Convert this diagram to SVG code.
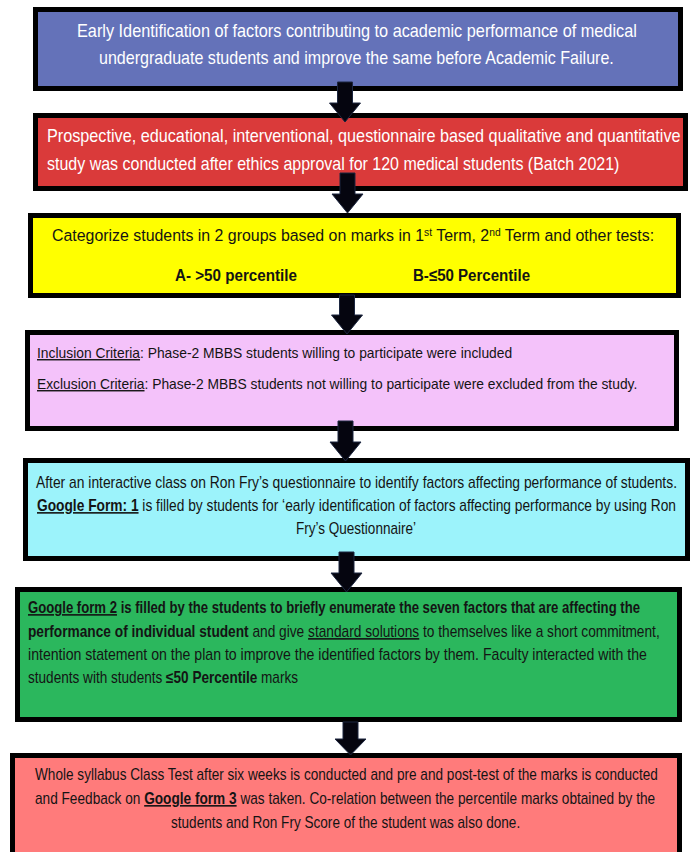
<svg xmlns="http://www.w3.org/2000/svg" width="697" height="852" viewBox="0 0 697 852">
<style>
.box{stroke:#000;stroke-width:5}
.t{font-family:"Liberation Sans",Arial,sans-serif;fill:#141414}
.w{fill:#fff}
.b{font-weight:bold}
.u{text-decoration:underline}
.arr{fill:#05050f;stroke:#1c2640;stroke-width:1}
</style>
<rect width="697" height="852" fill="#fff"/>
<g id="n1">
<rect class="box" x="35.5" y="9.5" width="645" height="79" fill="#6472b9"/>
<text class="t w" font-size="18" transform="translate(77,0) scale(0.9,1)" x="0" y="37" textLength="622" lengthAdjust="spacingAndGlyphs">Early Identification of factors contributing to academic performance of medical</text>
<text class="t w" font-size="18" transform="translate(99,0) scale(0.9,1)" x="0" y="64" textLength="572" lengthAdjust="spacingAndGlyphs">undergraduate students and improve the same before Academic Failure.</text>
</g>
<g id="n2">
<rect class="box" x="35.5" y="115.5" width="650" height="73" fill="#da3a3a"/>
<text class="t w" font-size="18" transform="translate(47,0) scale(0.9,1)" x="0" y="142" textLength="704" lengthAdjust="spacingAndGlyphs">Prospective, educational, interventional, questionnaire based qualitative and quantitative</text>
<text class="t w" font-size="18" transform="translate(47,0) scale(0.9,1)" x="0" y="170" textLength="636" lengthAdjust="spacingAndGlyphs">study was conducted after ethics approval for 120 medical students (Batch 2021)</text>
</g>
<g id="n3">
<rect class="box" x="30.5" y="215.5" width="648" height="80" fill="#ffff00"/>
<text class="t" font-size="17" transform="translate(52,0) scale(0.9,1)" x="0" y="241" textLength="669" lengthAdjust="spacingAndGlyphs">Categorize students in 2 groups based on marks in 1<tspan font-size="11" baseline-shift="super">st</tspan> Term, 2<tspan font-size="11" baseline-shift="super">nd</tspan> Term and other tests:</text>
<text class="t b" font-size="17" transform="translate(175,0) scale(0.9,1)" x="0" y="281" textLength="135.5" lengthAdjust="spacingAndGlyphs">A- &gt;50 percentile</text>
<text class="t b" font-size="17" transform="translate(413,0) scale(0.9,1)" x="0" y="281" textLength="130" lengthAdjust="spacingAndGlyphs">B-≤50 Percentile</text>
</g>
<g id="n4">
<rect class="box" x="27.5" y="332.5" width="649" height="96" fill="#f4c2fa"/>
<text class="t" font-size="14" transform="translate(37,0) scale(0.9,1)" x="0" y="358" textLength="528" lengthAdjust="spacingAndGlyphs"><tspan class="u">Inclusion Criteria</tspan>: Phase-2 MBBS students willing to participate were included</text>
<text class="t" font-size="14" transform="translate(37,0) scale(0.9,1)" x="0" y="389" textLength="667" lengthAdjust="spacingAndGlyphs"><tspan class="u">Exclusion Criteria</tspan>: Phase-2 MBBS students not willing to participate were excluded from the study.</text>
</g>
<g id="n5">
<rect class="box" x="25.5" y="460.5" width="662" height="98" fill="#9cf3fb"/>
<text class="t" font-size="16" transform="translate(36,0) scale(0.8605,1)" x="0" y="488" textLength="744.9" lengthAdjust="spacingAndGlyphs">After an interactive class on Ron Fry’s questionnaire to identify factors affecting performance of students.</text>
<text class="t" font-size="16" transform="translate(37,0) scale(0.8575,1)" x="0" y="511" textLength="745.2" lengthAdjust="spacingAndGlyphs"><tspan class="b u">Google Form: 1</tspan> is filled by students for ‘early identification of factors affecting performance by using Ron</text>
<text class="t" font-size="16" transform="translate(296,0) scale(0.843,1)" x="0" y="534" textLength="142.3" lengthAdjust="spacingAndGlyphs">Fry’s Questionnaire’</text>
</g>
<g id="n6">
<rect class="box" x="17.5" y="589.5" width="662" height="130" fill="#2bb75d"/>
<text class="t b" font-size="16" transform="translate(28,0) scale(0.8206,1)" x="0" y="613" textLength="745.8" lengthAdjust="spacingAndGlyphs"><tspan class="u">Google form 2</tspan> is filled by the students to briefly enumerate the seven factors that are affecting the</text>
<text class="t" font-size="16" transform="translate(28,0) scale(0.856,1)" x="0" y="637" textLength="738" lengthAdjust="spacingAndGlyphs"><tspan class="b">performance of individual student</tspan> and give <tspan class="u">standard solutions</tspan> to themselves like a short commitment,</text>
<text class="t" font-size="16" transform="translate(28,0) scale(0.882,1)" x="0" y="660" textLength="701.7" lengthAdjust="spacingAndGlyphs">intention statement on the plan to improve the identified factors by them. Faculty interacted with the</text>
<text class="t" font-size="16" transform="translate(28,0) scale(0.847,1)" x="0" y="683" textLength="318.8" lengthAdjust="spacingAndGlyphs">students with students <tspan class="b">≤50 Percentile</tspan> marks</text>
</g>
<g id="n7">
<rect class="box" x="12.5" y="755.5" width="667" height="110" fill="#ff7b7b"/>
<text class="t" font-size="16" transform="translate(35,0) scale(0.9,1)" x="0" y="780" textLength="692" lengthAdjust="spacingAndGlyphs">Whole syllabus Class Test after six weeks is conducted and pre and post-test of the marks is conducted</text>
<text class="t" font-size="16" transform="translate(35,0) scale(0.9,1)" x="0" y="804" textLength="689" lengthAdjust="spacingAndGlyphs">and Feedback on <tspan class="b u">Google form 3</tspan> was taken. Co-relation between the percentile marks obtained by the</text>
<text class="t" font-size="16" transform="translate(171,0) scale(0.9,1)" x="0" y="828" textLength="388" lengthAdjust="spacingAndGlyphs">students and Ron Fry Score of the student was also done.</text>
</g>
<g id="connectors">
<polygon class="arr" points="337.5,82 352.5,82 352.5,103 360.5,103 345,122 329.5,103 337.5,103"/>
<polygon class="arr" points="340,173 355,173 355,194 363,194 347.5,213 332,194 340,194"/>
<polygon class="arr" points="339.5,295 354.5,295 354.5,315 362.5,315 347,334 331.5,315 339.5,315"/>
<polygon class="arr" points="338,421 353,421 353,442 361,442 345.5,461 330,442 338,442"/>
<polygon class="arr" points="339,552 354,552 354,573 362,573 346.5,592 331,573 339,573"/>
<polygon class="arr" points="343,722 358,722 358,739 366,739 350.5,755 335,739 343,739"/>
</g>
</svg>
